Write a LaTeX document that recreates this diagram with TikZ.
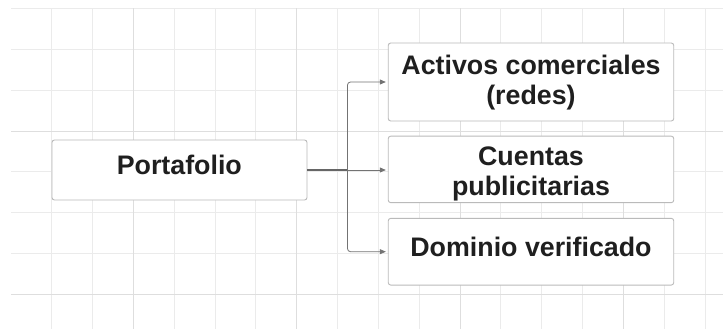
\documentclass[tikz,border=0pt]{standalone}
\usepackage{fontspec}
\setmainfont{Liberation Sans}
\usetikzlibrary{arrows.meta}
\begin{document}
\begin{tikzpicture}[x=1pt,y=-1pt,
  gridminor/.style={draw=black!8, line width=0.9pt},
  gridmajor/.style={draw=black!13, line width=0.9pt},
  box/.style={draw=black!27, fill=white, line width=0.9pt, rounded corners=2.5pt, inner sep=0pt},
  lbl/.style={anchor=base, inner sep=0pt, font=\fontsize{26.8}{30}\selectfont\bfseries, text=black!88},
  connline/.style={draw=black!60, line width=1.1pt},
  conn/.style={draw=black!55, line width=0.8pt, rounded corners=3pt, -{Triangle[length=6pt,width=5pt]}, shorten >=2pt}
]
\fill[white] (0,0) rectangle (723,329);
\useasboundingbox (0,0) rectangle (723,329);
% grid
\foreach \k in {1,...,17} {
  \pgfmathsetmacro\xx{10.9+40.83*\k}
  \draw[gridminor] (\xx,8.3) -- (\xx,329);
}
\foreach \j in {0,...,7} {
  \pgfmathsetmacro\yy{8.3+40.9*\j}
  \draw[gridminor] (11,\yy) -- (723,\yy);
}
\foreach \k in {3,7,11,15} {
  \pgfmathsetmacro\xx{10.9+40.83*\k}
  \draw[gridmajor] (\xx,8.3) -- (\xx,329);
}
\foreach \j in {3,7} {
  \pgfmathsetmacro\yy{8.3+40.9*\j}
  \draw[gridmajor] (11,\yy) -- (723,\yy);
}
% boxes
\node[box, minimum width=255pt, minimum height=60pt] (p) at (179.5,170) {};
\node[box, minimum width=285.5pt, minimum height=78pt] (a) at (531,82) {};
\node[box, minimum width=285.5pt, minimum height=66.5pt] (b) at (531,169.4) {};
\node[box, minimum width=285.5pt, minimum height=66.7pt] (c) at (531,251.7) {};
% labels
\node[lbl] (tp) at (179.3,174.3) {Portafolio};
\node[lbl] (ta1) at (531,74.3) {Activos comerciales};
\node[lbl] (ta2) at (531,104) {(redes)};
\node[lbl] (tb1) at (531,165) {Cuentas};
\node[lbl] (tb2) at (531,195) {publicitarias};
\node[lbl] (tc) at (531,256.7) {Dominio verificado};
% connectors
\coordinate (tr) at (347.5,170);
\draw[connline] (p.east) -- (tr);
\draw[conn] (tr) |- (a.west);
\draw[conn] (tr) |- (c.west);
\draw[conn] (tr) -- (tr -| b.west);
\end{tikzpicture}
\end{document}
